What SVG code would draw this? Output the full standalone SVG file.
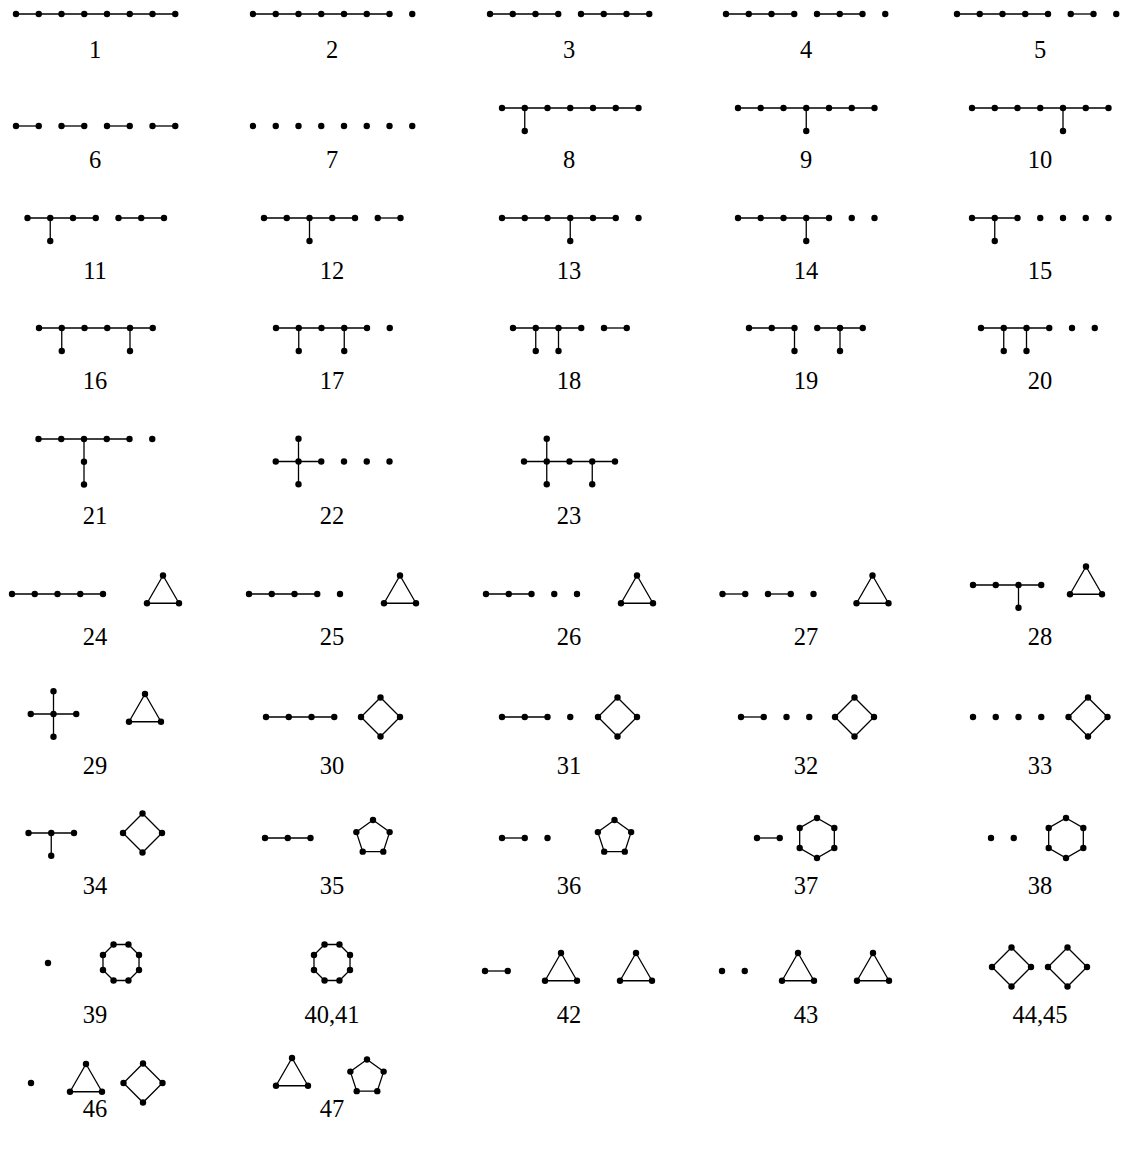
<svg xmlns="http://www.w3.org/2000/svg" width="1123" height="1151" viewBox="0 0 1123 1151">
<style>
circle{fill:#000}
line,polygon{stroke:#000;stroke-width:1.3;fill:none}
text{font-family:"Liberation Serif","DejaVu Serif",serif;font-size:24.5px;text-anchor:middle;fill:#000}
</style>
<rect width="1123" height="1151" fill="#fff"/>
<g id="connectors">
<!-- row 1 -->
<line x1="16" y1="14" x2="175.25" y2="14"/>
<line x1="253" y1="14" x2="389.5" y2="14"/>
<line x1="490" y1="14" x2="558.25" y2="14"/><line x1="581" y1="14" x2="649.25" y2="14"/>
<line x1="726" y1="14" x2="794.25" y2="14"/><line x1="817" y1="14" x2="862.5" y2="14"/>
<line x1="957" y1="14" x2="1048" y2="14"/><line x1="1070.75" y1="14" x2="1093.5" y2="14"/>
<!-- row 2 -->
<line x1="16" y1="126" x2="38.75" y2="126"/><line x1="61.5" y1="126" x2="84.25" y2="126"/><line x1="107" y1="126" x2="129.75" y2="126"/><line x1="152.5" y1="126" x2="175.25" y2="126"/>
<line x1="502" y1="108" x2="638.5" y2="108"/><line x1="524.75" y1="108" x2="524.75" y2="131"/>
<line x1="738" y1="108" x2="874.5" y2="108"/><line x1="806.25" y1="108" x2="806.25" y2="131"/>
<line x1="972" y1="108" x2="1108.5" y2="108"/><line x1="1063" y1="108" x2="1063" y2="131"/>
<!-- row 3 -->
<line x1="27.5" y1="218" x2="95.75" y2="218"/><line x1="118.5" y1="218" x2="164" y2="218"/><line x1="50.25" y1="218" x2="50.25" y2="241"/>
<line x1="264" y1="218" x2="355" y2="218"/><line x1="377.75" y1="218" x2="400.5" y2="218"/><line x1="309.5" y1="218" x2="309.5" y2="241"/>
<line x1="502" y1="218" x2="615.75" y2="218"/><line x1="570.25" y1="218" x2="570.25" y2="241"/>
<line x1="738" y1="218" x2="829" y2="218"/><line x1="806.25" y1="218" x2="806.25" y2="241"/>
<line x1="972" y1="218" x2="1017.5" y2="218"/><line x1="994.75" y1="218" x2="994.75" y2="241"/>
<!-- row 4 -->
<line x1="39" y1="328" x2="152.75" y2="328"/><line x1="61.75" y1="328" x2="61.75" y2="351"/><line x1="130" y1="328" x2="130" y2="351"/>
<line x1="276" y1="328" x2="367" y2="328"/><line x1="298.75" y1="328" x2="298.75" y2="351"/><line x1="344.25" y1="328" x2="344.25" y2="351"/>
<line x1="513" y1="328" x2="581.25" y2="328"/><line x1="604" y1="328" x2="626.75" y2="328"/><line x1="535.75" y1="328" x2="535.75" y2="351"/><line x1="558.5" y1="328" x2="558.5" y2="351"/>
<line x1="749" y1="328" x2="794.5" y2="328"/><line x1="817.25" y1="328" x2="862.75" y2="328"/><line x1="794.5" y1="328" x2="794.5" y2="351"/><line x1="840" y1="328" x2="840" y2="351"/>
<line x1="981" y1="328" x2="1049.25" y2="328"/><line x1="1003.75" y1="328" x2="1003.75" y2="351"/><line x1="1026.5" y1="328" x2="1026.5" y2="351"/>
<!-- row 5 -->
<line x1="38.5" y1="439" x2="129.5" y2="439"/><line x1="84" y1="439" x2="84" y2="484.5"/>
<line x1="275.75" y1="461.5" x2="321.25" y2="461.5"/><line x1="298.5" y1="438.75" x2="298.5" y2="484.25"/>
<line x1="524" y1="461.5" x2="615" y2="461.5"/><line x1="546.75" y1="438.75" x2="546.75" y2="484.25"/><line x1="592.25" y1="461.5" x2="592.25" y2="484.25"/>
<!-- row 6 -->
<line x1="12" y1="594" x2="103" y2="594"/><polygon points="163,575.5 179,603.25 147,603.25"/>
<line x1="249" y1="594" x2="317.25" y2="594"/><polygon points="400,575.5 416,603.25 384,603.25"/>
<line x1="486" y1="594" x2="531.5" y2="594"/><polygon points="637,575.5 653,603.25 621,603.25"/>
<line x1="722.5" y1="594" x2="745.25" y2="594"/><line x1="768" y1="594" x2="790.75" y2="594"/><polygon points="872.5,575.5 888.5,603.25 856.5,603.25"/>
<line x1="973" y1="585" x2="1041.25" y2="585"/><line x1="1018.5" y1="585" x2="1018.5" y2="607.75"/><polygon points="1086,566.5 1102,594.25 1070,594.25"/>
<!-- row 7 -->
<line x1="30.75" y1="714" x2="76.25" y2="714"/><line x1="53.5" y1="691.25" x2="53.5" y2="736.75"/><polygon points="145,694 161,721.75 129,721.75"/>
<line x1="266" y1="717" x2="334.25" y2="717"/><polygon points="380.5,697.5 400,717 380.5,736.5 361,717"/>
<line x1="502" y1="717" x2="547.5" y2="717"/><polygon points="617.5,697.5 637,717 617.5,736.5 598,717"/>
<line x1="741" y1="717" x2="763.75" y2="717"/><polygon points="854.5,697.5 874,717 854.5,736.5 835,717"/>
<polygon points="1088,697.5 1107.5,717 1088,736.5 1068.5,717"/>
<!-- row 8 -->
<line x1="28.5" y1="833" x2="74" y2="833"/><line x1="51.25" y1="833" x2="51.25" y2="855.75"/><polygon points="142.5,813.5 162,833 142.5,852.5 123,833"/>
<line x1="265" y1="838" x2="310.5" y2="838"/><polygon points="373,820 389.64,832.09 383.29,851.66 362.71,851.66 356.36,832.09"/>
<line x1="502" y1="838" x2="524.75" y2="838"/><polygon points="614.5,820 631.14,832.09 624.79,851.66 604.21,851.66 597.86,832.09"/>
<line x1="757" y1="838" x2="779.75" y2="838"/><polygon points="817,818 834.32,828 834.32,848 817,858 799.68,848 799.68,828"/>
<polygon points="1066,818 1083.32,828 1083.32,848 1066,858 1048.68,848 1048.68,828"/>
<!-- row 9 -->
<polygon points="113.54,944.48 128.46,944.48 139.02,955.04 139.02,969.96 128.46,980.52 113.54,980.52 102.98,969.96 102.98,955.04"/>
<polygon points="324.54,944.48 339.46,944.48 350.02,955.04 350.02,969.96 339.46,980.52 324.54,980.52 313.98,969.96 313.98,955.04"/>
<line x1="485" y1="971" x2="507.75" y2="971"/><polygon points="561,953 577,980.75 545,980.75"/><polygon points="636,953 652,980.75 620,980.75"/>
<polygon points="798,953 814,980.75 782,980.75"/><polygon points="873,953 889,980.75 857,980.75"/>
<polygon points="1011.5,947.5 1031,967 1011.5,986.5 992,967"/><polygon points="1067.5,947.5 1087,967 1067.5,986.5 1048,967"/>
<!-- row 10 -->
<polygon points="86,1064 102,1091.75 70,1091.75"/><polygon points="143,1063.5 162.5,1083 143,1102.5 123.5,1083"/>
<polygon points="292,1058 308,1085.75 276,1085.75"/><polygon points="367,1059.5 383.64,1071.59 377.29,1091.16 356.71,1091.16 350.36,1071.59"/>
</g>
<g id="g1"><circle cx="16" cy="14" r="3.2"/><circle cx="38.75" cy="14" r="3.2"/><circle cx="61.5" cy="14" r="3.2"/><circle cx="84.25" cy="14" r="3.2"/><circle cx="107" cy="14" r="3.2"/><circle cx="129.75" cy="14" r="3.2"/><circle cx="152.5" cy="14" r="3.2"/><circle cx="175.25" cy="14" r="3.2"/><text x="95" y="58">1</text></g>
<g id="g2"><circle cx="253" cy="14" r="3.2"/><circle cx="275.75" cy="14" r="3.2"/><circle cx="298.5" cy="14" r="3.2"/><circle cx="321.25" cy="14" r="3.2"/><circle cx="344" cy="14" r="3.2"/><circle cx="366.75" cy="14" r="3.2"/><circle cx="389.5" cy="14" r="3.2"/><circle cx="412.25" cy="14" r="3.2"/><text x="332" y="58">2</text></g>
<g id="g3"><circle cx="490" cy="14" r="3.2"/><circle cx="512.75" cy="14" r="3.2"/><circle cx="535.5" cy="14" r="3.2"/><circle cx="558.25" cy="14" r="3.2"/><circle cx="581" cy="14" r="3.2"/><circle cx="603.75" cy="14" r="3.2"/><circle cx="626.5" cy="14" r="3.2"/><circle cx="649.25" cy="14" r="3.2"/><text x="569" y="58">3</text></g>
<g id="g4"><circle cx="726" cy="14" r="3.2"/><circle cx="748.75" cy="14" r="3.2"/><circle cx="771.5" cy="14" r="3.2"/><circle cx="794.25" cy="14" r="3.2"/><circle cx="817" cy="14" r="3.2"/><circle cx="839.75" cy="14" r="3.2"/><circle cx="862.5" cy="14" r="3.2"/><circle cx="885.25" cy="14" r="3.2"/><text x="806" y="58">4</text></g>
<g id="g5"><circle cx="957" cy="14" r="3.2"/><circle cx="979.75" cy="14" r="3.2"/><circle cx="1002.5" cy="14" r="3.2"/><circle cx="1025.25" cy="14" r="3.2"/><circle cx="1048" cy="14" r="3.2"/><circle cx="1070.75" cy="14" r="3.2"/><circle cx="1093.5" cy="14" r="3.2"/><circle cx="1116.25" cy="14" r="3.2"/><text x="1040" y="58">5</text></g>
<g id="g6"><circle cx="16" cy="126" r="3.2"/><circle cx="38.75" cy="126" r="3.2"/><circle cx="61.5" cy="126" r="3.2"/><circle cx="84.25" cy="126" r="3.2"/><circle cx="107" cy="126" r="3.2"/><circle cx="129.75" cy="126" r="3.2"/><circle cx="152.5" cy="126" r="3.2"/><circle cx="175.25" cy="126" r="3.2"/><text x="95" y="168">6</text></g>
<g id="g7"><circle cx="253" cy="126" r="3.2"/><circle cx="275.75" cy="126" r="3.2"/><circle cx="298.5" cy="126" r="3.2"/><circle cx="321.25" cy="126" r="3.2"/><circle cx="344" cy="126" r="3.2"/><circle cx="366.75" cy="126" r="3.2"/><circle cx="389.5" cy="126" r="3.2"/><circle cx="412.25" cy="126" r="3.2"/><text x="332" y="168">7</text></g>
<g id="g8"><circle cx="502" cy="108" r="3.2"/><circle cx="524.75" cy="108" r="3.2"/><circle cx="547.5" cy="108" r="3.2"/><circle cx="570.25" cy="108" r="3.2"/><circle cx="593" cy="108" r="3.2"/><circle cx="615.75" cy="108" r="3.2"/><circle cx="638.5" cy="108" r="3.2"/><circle cx="524.75" cy="131" r="3.2"/><text x="569" y="168">8</text></g>
<g id="g9"><circle cx="738" cy="108" r="3.2"/><circle cx="760.75" cy="108" r="3.2"/><circle cx="783.5" cy="108" r="3.2"/><circle cx="806.25" cy="108" r="3.2"/><circle cx="829" cy="108" r="3.2"/><circle cx="851.75" cy="108" r="3.2"/><circle cx="874.5" cy="108" r="3.2"/><circle cx="806.25" cy="131" r="3.2"/><text x="806" y="168">9</text></g>
<g id="g10"><circle cx="972" cy="108" r="3.2"/><circle cx="994.75" cy="108" r="3.2"/><circle cx="1017.5" cy="108" r="3.2"/><circle cx="1040.25" cy="108" r="3.2"/><circle cx="1063" cy="108" r="3.2"/><circle cx="1085.75" cy="108" r="3.2"/><circle cx="1108.5" cy="108" r="3.2"/><circle cx="1063" cy="131" r="3.2"/><text x="1040" y="168">10</text></g>
<g id="g11"><circle cx="27.5" cy="218" r="3.2"/><circle cx="50.25" cy="218" r="3.2"/><circle cx="73" cy="218" r="3.2"/><circle cx="95.75" cy="218" r="3.2"/><circle cx="118.5" cy="218" r="3.2"/><circle cx="141.25" cy="218" r="3.2"/><circle cx="164" cy="218" r="3.2"/><circle cx="50.25" cy="241" r="3.2"/><text x="95" y="279">11</text></g>
<g id="g12"><circle cx="264" cy="218" r="3.2"/><circle cx="286.75" cy="218" r="3.2"/><circle cx="309.5" cy="218" r="3.2"/><circle cx="332.25" cy="218" r="3.2"/><circle cx="355" cy="218" r="3.2"/><circle cx="377.75" cy="218" r="3.2"/><circle cx="400.5" cy="218" r="3.2"/><circle cx="309.5" cy="241" r="3.2"/><text x="332" y="279">12</text></g>
<g id="g13"><circle cx="502" cy="218" r="3.2"/><circle cx="524.75" cy="218" r="3.2"/><circle cx="547.5" cy="218" r="3.2"/><circle cx="570.25" cy="218" r="3.2"/><circle cx="593" cy="218" r="3.2"/><circle cx="615.75" cy="218" r="3.2"/><circle cx="638.5" cy="218" r="3.2"/><circle cx="570.25" cy="241" r="3.2"/><text x="569" y="279">13</text></g>
<g id="g14"><circle cx="738" cy="218" r="3.2"/><circle cx="760.75" cy="218" r="3.2"/><circle cx="783.5" cy="218" r="3.2"/><circle cx="806.25" cy="218" r="3.2"/><circle cx="829" cy="218" r="3.2"/><circle cx="851.75" cy="218" r="3.2"/><circle cx="874.5" cy="218" r="3.2"/><circle cx="806.25" cy="241" r="3.2"/><text x="806" y="279">14</text></g>
<g id="g15"><circle cx="972" cy="218" r="3.2"/><circle cx="994.75" cy="218" r="3.2"/><circle cx="1017.5" cy="218" r="3.2"/><circle cx="1040.25" cy="218" r="3.2"/><circle cx="1063" cy="218" r="3.2"/><circle cx="1085.75" cy="218" r="3.2"/><circle cx="1108.5" cy="218" r="3.2"/><circle cx="994.75" cy="241" r="3.2"/><text x="1040" y="279">15</text></g>
<g id="g16"><circle cx="39" cy="328" r="3.2"/><circle cx="61.75" cy="328" r="3.2"/><circle cx="84.5" cy="328" r="3.2"/><circle cx="107.25" cy="328" r="3.2"/><circle cx="130" cy="328" r="3.2"/><circle cx="152.75" cy="328" r="3.2"/><circle cx="61.75" cy="351" r="3.2"/><circle cx="130" cy="351" r="3.2"/><text x="95" y="389">16</text></g>
<g id="g17"><circle cx="276" cy="328" r="3.2"/><circle cx="298.75" cy="328" r="3.2"/><circle cx="321.5" cy="328" r="3.2"/><circle cx="344.25" cy="328" r="3.2"/><circle cx="367" cy="328" r="3.2"/><circle cx="389.75" cy="328" r="3.2"/><circle cx="298.75" cy="351" r="3.2"/><circle cx="344.25" cy="351" r="3.2"/><text x="332" y="389">17</text></g>
<g id="g18"><circle cx="513" cy="328" r="3.2"/><circle cx="535.75" cy="328" r="3.2"/><circle cx="558.5" cy="328" r="3.2"/><circle cx="581.25" cy="328" r="3.2"/><circle cx="604" cy="328" r="3.2"/><circle cx="626.75" cy="328" r="3.2"/><circle cx="535.75" cy="351" r="3.2"/><circle cx="558.5" cy="351" r="3.2"/><text x="569" y="389">18</text></g>
<g id="g19"><circle cx="749" cy="328" r="3.2"/><circle cx="771.75" cy="328" r="3.2"/><circle cx="794.5" cy="328" r="3.2"/><circle cx="817.25" cy="328" r="3.2"/><circle cx="840" cy="328" r="3.2"/><circle cx="862.75" cy="328" r="3.2"/><circle cx="794.5" cy="351" r="3.2"/><circle cx="840" cy="351" r="3.2"/><text x="806" y="389">19</text></g>
<g id="g20"><circle cx="981" cy="328" r="3.2"/><circle cx="1003.75" cy="328" r="3.2"/><circle cx="1026.5" cy="328" r="3.2"/><circle cx="1049.25" cy="328" r="3.2"/><circle cx="1072" cy="328" r="3.2"/><circle cx="1094.75" cy="328" r="3.2"/><circle cx="1003.75" cy="351" r="3.2"/><circle cx="1026.5" cy="351" r="3.2"/><text x="1040" y="389">20</text></g>
<g id="g21"><circle cx="38.5" cy="439" r="3.2"/><circle cx="61.25" cy="439" r="3.2"/><circle cx="84" cy="439" r="3.2"/><circle cx="106.75" cy="439" r="3.2"/><circle cx="129.5" cy="439" r="3.2"/><circle cx="152.25" cy="439" r="3.2"/><circle cx="84" cy="461.75" r="3.2"/><circle cx="84" cy="484.5" r="3.2"/><text x="95" y="524">21</text></g>
<g id="g22"><circle cx="275.75" cy="461.5" r="3.2"/><circle cx="298.5" cy="461.5" r="3.2"/><circle cx="321.25" cy="461.5" r="3.2"/><circle cx="298.5" cy="438.75" r="3.2"/><circle cx="298.5" cy="484.25" r="3.2"/><circle cx="344" cy="461.5" r="3.2"/><circle cx="366.75" cy="461.5" r="3.2"/><circle cx="389.5" cy="461.5" r="3.2"/><text x="332" y="524">22</text></g>
<g id="g23"><circle cx="524" cy="461.5" r="3.2"/><circle cx="546.75" cy="461.5" r="3.2"/><circle cx="569.5" cy="461.5" r="3.2"/><circle cx="592.25" cy="461.5" r="3.2"/><circle cx="615" cy="461.5" r="3.2"/><circle cx="546.75" cy="438.75" r="3.2"/><circle cx="546.75" cy="484.25" r="3.2"/><circle cx="592.25" cy="484.25" r="3.2"/><text x="569" y="524">23</text></g>
<g id="g24"><circle cx="12" cy="594" r="3.2"/><circle cx="34.75" cy="594" r="3.2"/><circle cx="57.5" cy="594" r="3.2"/><circle cx="80.25" cy="594" r="3.2"/><circle cx="103" cy="594" r="3.2"/><circle cx="163" cy="575.5" r="3.2"/><circle cx="179" cy="603.25" r="3.2"/><circle cx="147" cy="603.25" r="3.2"/><text x="95" y="645">24</text></g>
<g id="g25"><circle cx="249" cy="594" r="3.2"/><circle cx="271.75" cy="594" r="3.2"/><circle cx="294.5" cy="594" r="3.2"/><circle cx="317.25" cy="594" r="3.2"/><circle cx="340" cy="594" r="3.2"/><circle cx="400" cy="575.5" r="3.2"/><circle cx="416" cy="603.25" r="3.2"/><circle cx="384" cy="603.25" r="3.2"/><text x="332" y="645">25</text></g>
<g id="g26"><circle cx="486" cy="594" r="3.2"/><circle cx="508.75" cy="594" r="3.2"/><circle cx="531.5" cy="594" r="3.2"/><circle cx="554.25" cy="594" r="3.2"/><circle cx="577" cy="594" r="3.2"/><circle cx="637" cy="575.5" r="3.2"/><circle cx="653" cy="603.25" r="3.2"/><circle cx="621" cy="603.25" r="3.2"/><text x="569" y="645">26</text></g>
<g id="g27"><circle cx="722.5" cy="594" r="3.2"/><circle cx="745.25" cy="594" r="3.2"/><circle cx="768" cy="594" r="3.2"/><circle cx="790.75" cy="594" r="3.2"/><circle cx="813.5" cy="594" r="3.2"/><circle cx="872.5" cy="575.5" r="3.2"/><circle cx="888.5" cy="603.25" r="3.2"/><circle cx="856.5" cy="603.25" r="3.2"/><text x="806" y="645">27</text></g>
<g id="g28"><circle cx="973" cy="585" r="3.2"/><circle cx="995.75" cy="585" r="3.2"/><circle cx="1018.5" cy="585" r="3.2"/><circle cx="1041.25" cy="585" r="3.2"/><circle cx="1018.5" cy="607.75" r="3.2"/><circle cx="1086" cy="566.5" r="3.2"/><circle cx="1102" cy="594.25" r="3.2"/><circle cx="1070" cy="594.25" r="3.2"/><text x="1040" y="645">28</text></g>
<g id="g29"><circle cx="30.75" cy="714" r="3.2"/><circle cx="53.5" cy="714" r="3.2"/><circle cx="76.25" cy="714" r="3.2"/><circle cx="53.5" cy="691.25" r="3.2"/><circle cx="53.5" cy="736.75" r="3.2"/><circle cx="145" cy="694" r="3.2"/><circle cx="161" cy="721.75" r="3.2"/><circle cx="129" cy="721.75" r="3.2"/><text x="95" y="774">29</text></g>
<g id="g30"><circle cx="266" cy="717" r="3.2"/><circle cx="288.75" cy="717" r="3.2"/><circle cx="311.5" cy="717" r="3.2"/><circle cx="334.25" cy="717" r="3.2"/><circle cx="380.5" cy="697.5" r="3.2"/><circle cx="400" cy="717" r="3.2"/><circle cx="380.5" cy="736.5" r="3.2"/><circle cx="361" cy="717" r="3.2"/><text x="332" y="774">30</text></g>
<g id="g31"><circle cx="502" cy="717" r="3.2"/><circle cx="524.75" cy="717" r="3.2"/><circle cx="547.5" cy="717" r="3.2"/><circle cx="570.25" cy="717" r="3.2"/><circle cx="617.5" cy="697.5" r="3.2"/><circle cx="637" cy="717" r="3.2"/><circle cx="617.5" cy="736.5" r="3.2"/><circle cx="598" cy="717" r="3.2"/><text x="569" y="774">31</text></g>
<g id="g32"><circle cx="741" cy="717" r="3.2"/><circle cx="763.75" cy="717" r="3.2"/><circle cx="786.5" cy="717" r="3.2"/><circle cx="809.25" cy="717" r="3.2"/><circle cx="854.5" cy="697.5" r="3.2"/><circle cx="874" cy="717" r="3.2"/><circle cx="854.5" cy="736.5" r="3.2"/><circle cx="835" cy="717" r="3.2"/><text x="806" y="774">32</text></g>
<g id="g33"><circle cx="973" cy="717" r="3.2"/><circle cx="995.75" cy="717" r="3.2"/><circle cx="1018.5" cy="717" r="3.2"/><circle cx="1041.25" cy="717" r="3.2"/><circle cx="1088" cy="697.5" r="3.2"/><circle cx="1107.5" cy="717" r="3.2"/><circle cx="1088" cy="736.5" r="3.2"/><circle cx="1068.5" cy="717" r="3.2"/><text x="1040" y="774">33</text></g>
<g id="g34"><circle cx="28.5" cy="833" r="3.2"/><circle cx="51.25" cy="833" r="3.2"/><circle cx="74" cy="833" r="3.2"/><circle cx="51.25" cy="855.75" r="3.2"/><circle cx="142.5" cy="813.5" r="3.2"/><circle cx="162" cy="833" r="3.2"/><circle cx="142.5" cy="852.5" r="3.2"/><circle cx="123" cy="833" r="3.2"/><text x="95" y="894">34</text></g>
<g id="g35"><circle cx="265" cy="838" r="3.2"/><circle cx="287.75" cy="838" r="3.2"/><circle cx="310.5" cy="838" r="3.2"/><circle cx="373" cy="820" r="3.2"/><circle cx="389.64" cy="832.09" r="3.2"/><circle cx="383.29" cy="851.66" r="3.2"/><circle cx="362.71" cy="851.66" r="3.2"/><circle cx="356.36" cy="832.09" r="3.2"/><text x="332" y="894">35</text></g>
<g id="g36"><circle cx="502" cy="838" r="3.2"/><circle cx="524.75" cy="838" r="3.2"/><circle cx="547.5" cy="838" r="3.2"/><circle cx="614.5" cy="820" r="3.2"/><circle cx="631.14" cy="832.09" r="3.2"/><circle cx="624.79" cy="851.66" r="3.2"/><circle cx="604.21" cy="851.66" r="3.2"/><circle cx="597.86" cy="832.09" r="3.2"/><text x="569" y="894">36</text></g>
<g id="g37"><circle cx="757" cy="838" r="3.2"/><circle cx="779.75" cy="838" r="3.2"/><circle cx="817" cy="818" r="3.2"/><circle cx="834.32" cy="828" r="3.2"/><circle cx="834.32" cy="848" r="3.2"/><circle cx="817" cy="858" r="3.2"/><circle cx="799.68" cy="848" r="3.2"/><circle cx="799.68" cy="828" r="3.2"/><text x="806" y="894">37</text></g>
<g id="g38"><circle cx="991" cy="838" r="3.2"/><circle cx="1013.75" cy="838" r="3.2"/><circle cx="1066" cy="818" r="3.2"/><circle cx="1083.32" cy="828" r="3.2"/><circle cx="1083.32" cy="848" r="3.2"/><circle cx="1066" cy="858" r="3.2"/><circle cx="1048.68" cy="848" r="3.2"/><circle cx="1048.68" cy="828" r="3.2"/><text x="1040" y="894">38</text></g>
<g id="g39"><circle cx="48" cy="963" r="3.2"/><circle cx="113.54" cy="944.48" r="3.2"/><circle cx="128.46" cy="944.48" r="3.2"/><circle cx="139.02" cy="955.04" r="3.2"/><circle cx="139.02" cy="969.96" r="3.2"/><circle cx="128.46" cy="980.52" r="3.2"/><circle cx="113.54" cy="980.52" r="3.2"/><circle cx="102.98" cy="969.96" r="3.2"/><circle cx="102.98" cy="955.04" r="3.2"/><text x="95" y="1023">39</text></g>
<g id="g40-41"><circle cx="324.54" cy="944.48" r="3.2"/><circle cx="339.46" cy="944.48" r="3.2"/><circle cx="350.02" cy="955.04" r="3.2"/><circle cx="350.02" cy="969.96" r="3.2"/><circle cx="339.46" cy="980.52" r="3.2"/><circle cx="324.54" cy="980.52" r="3.2"/><circle cx="313.98" cy="969.96" r="3.2"/><circle cx="313.98" cy="955.04" r="3.2"/><text x="332" y="1023">40,41</text></g>
<g id="g42"><circle cx="485" cy="971" r="3.2"/><circle cx="507.75" cy="971" r="3.2"/><circle cx="561" cy="953" r="3.2"/><circle cx="577" cy="980.75" r="3.2"/><circle cx="545" cy="980.75" r="3.2"/><circle cx="636" cy="953" r="3.2"/><circle cx="652" cy="980.75" r="3.2"/><circle cx="620" cy="980.75" r="3.2"/><text x="569" y="1023">42</text></g>
<g id="g43"><circle cx="722" cy="971" r="3.2"/><circle cx="744.75" cy="971" r="3.2"/><circle cx="798" cy="953" r="3.2"/><circle cx="814" cy="980.75" r="3.2"/><circle cx="782" cy="980.75" r="3.2"/><circle cx="873" cy="953" r="3.2"/><circle cx="889" cy="980.75" r="3.2"/><circle cx="857" cy="980.75" r="3.2"/><text x="806" y="1023">43</text></g>
<g id="g44-45"><circle cx="1011.5" cy="947.5" r="3.2"/><circle cx="1031" cy="967" r="3.2"/><circle cx="1011.5" cy="986.5" r="3.2"/><circle cx="992" cy="967" r="3.2"/><circle cx="1067.5" cy="947.5" r="3.2"/><circle cx="1087" cy="967" r="3.2"/><circle cx="1067.5" cy="986.5" r="3.2"/><circle cx="1048" cy="967" r="3.2"/><text x="1040" y="1023">44,45</text></g>
<g id="g46"><circle cx="31" cy="1083" r="3.2"/><circle cx="86" cy="1064" r="3.2"/><circle cx="102" cy="1091.75" r="3.2"/><circle cx="70" cy="1091.75" r="3.2"/><circle cx="143" cy="1063.5" r="3.2"/><circle cx="162.5" cy="1083" r="3.2"/><circle cx="143" cy="1102.5" r="3.2"/><circle cx="123.5" cy="1083" r="3.2"/><text x="95" y="1117">46</text></g>
<g id="g47"><circle cx="292" cy="1058" r="3.2"/><circle cx="308" cy="1085.75" r="3.2"/><circle cx="276" cy="1085.75" r="3.2"/><circle cx="367" cy="1059.5" r="3.2"/><circle cx="383.64" cy="1071.59" r="3.2"/><circle cx="377.29" cy="1091.16" r="3.2"/><circle cx="356.71" cy="1091.16" r="3.2"/><circle cx="350.36" cy="1071.59" r="3.2"/><text x="332" y="1117">47</text></g>
</svg>
